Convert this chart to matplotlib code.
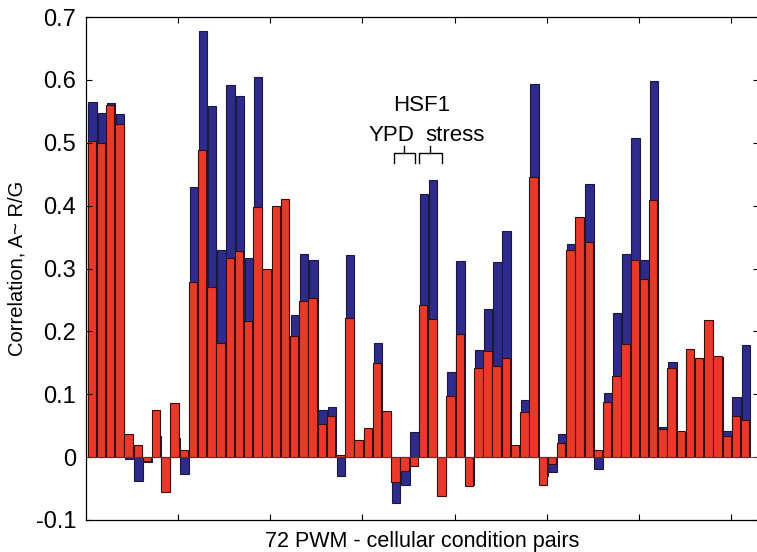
import numpy as np
import matplotlib
matplotlib.use("Agg")
from matplotlib import pyplot as plt

plt.rcParams['font.family'] = ['Liberation Sans', 'DejaVu Sans']

# correlation per PWM - condition pair (blue = behind, red = front)
blue = [0.565, 0.547, 0.564, 0.545, -0.003, -0.038, -0.008, 0.034, -0.050, 0.031,
        -0.027, 0.429, 0.677, 0.559, 0.329, 0.592, 0.574, 0.317, 0.605, 0.140,
        0.150, 0.143, 0.226, 0.323, 0.313, 0.075, 0.079, -0.030, 0.322, 0.025,
        0.040, 0.182, 0.070, -0.073, -0.044, 0.040, 0.418, 0.441, -0.058, 0.135,
        0.312, -0.045, 0.171, 0.235, 0.311, 0.359, 0.018, 0.091, 0.593, -0.030,
        -0.023, 0.037, 0.339, 0.370, 0.435, -0.019, 0.102, 0.230, 0.323, 0.508,
        0.314, 0.599, 0.048, 0.152, 0.040, 0.127, 0.063, 0.160, 0.160, 0.042,
        0.096, 0.179]
red = [0.503, 0.499, 0.560, 0.530, 0.036, 0.020, -0.006, 0.075, -0.055, 0.086,
       0.012, 0.279, 0.489, 0.270, 0.181, 0.316, 0.328, 0.216, 0.398, 0.300,
       0.399, 0.411, 0.192, 0.248, 0.253, 0.052, 0.066, 0.003, 0.221, 0.027,
       0.047, 0.150, 0.073, -0.039, -0.022, -0.014, 0.242, 0.220, -0.062, 0.097,
       0.196, -0.046, 0.141, 0.169, 0.145, 0.158, 0.019, 0.071, 0.446, -0.045,
       -0.011, 0.022, 0.330, 0.382, 0.342, 0.012, 0.088, 0.129, 0.180, 0.314,
       0.284, 0.409, 0.045, 0.141, 0.041, 0.172, 0.158, 0.218, 0.161, 0.033,
       0.066, 0.059]
yticks = [-0.1, 0, 0.1, 0.2, 0.3, 0.4, 0.5, 0.6, 0.7]
ytick_labels = ['-0.1', '0', '0.1', '0.2', '0.3', '0.4', '0.5', '0.6', '0.7']

n = np.arange(1, len(red) + 1)

fig = plt.figure(figsize=(7.57, 5.52), dpi=100)
ax = fig.add_axes([86/757, 32/552, (759-86)/757, (520-17)/552])

ax.bar(n + 0.08, blue, width=0.92, color='#2f2b8c', edgecolor='#1a1a40', linewidth=0.8)
ax.bar(n, red, width=0.92, color='#e8392a', edgecolor='#3a0d08', linewidth=0.8)
ax.axhline(0, color='#7a3030', linewidth=0.6)

ax.set_xlim(0.37, 73.5)
ax.set_ylim(-0.1, 0.7)
ax.set_yticks(yticks)
ax.set_yticklabels(ytick_labels)
ax.set_xticks(np.arange(10.37, 73, 10.02))
ax.set_xticklabels([])
ax.tick_params(direction='in', top=True, right=True, length=4, labelsize=17, width=0.8, pad=7)
ax.set_ylabel('Correlation, A~ R/G', fontsize=14.5, labelpad=7)
ax.set_xlabel('72 PWM - cellular condition pairs', fontsize=15.5, labelpad=1)

# HSF1 annotation with brackets
ax.text(36.9, 0.560, 'HSF1', fontsize=16, ha='center', va='center')
ax.text(33.6, 0.512, 'YPD', fontsize=16, ha='center', va='center')
ax.text(40.5, 0.512, 'stress', fontsize=16, ha='center', va='center')
for a, b in [(33.8, 36.15), (36.6, 39.0)]:
    ax.plot([a, a, b, b], [0.468, 0.484, 0.484, 0.468], color='k', lw=1)
    ax.plot([(a + b) / 2] * 2, [0.484, 0.495], color='k', lw=1)

for s in ax.spines.values():
    s.set_linewidth(0.9)

plt.savefig('out.png', dpi=100)
